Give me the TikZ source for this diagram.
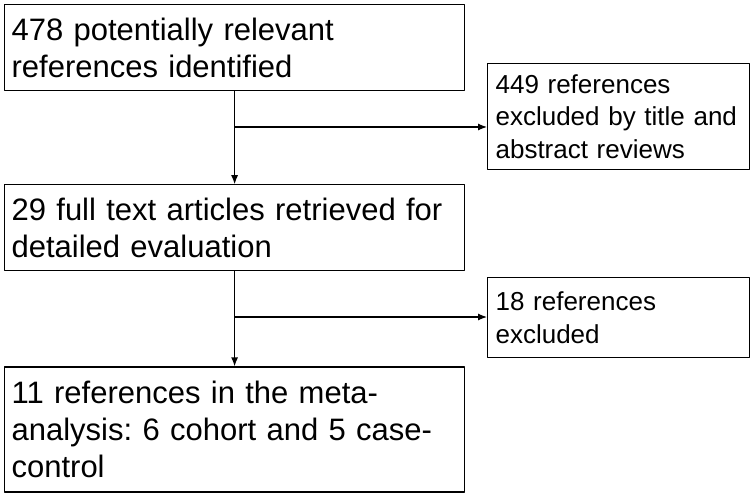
\documentclass[tikz,border=0pt]{standalone}
\usepackage{fontspec}
\setmainfont{Liberation Sans}
\usetikzlibrary{arrows.meta, positioning}
\frenchspacing

\begin{document}
\begin{tikzpicture}[
                x=1pt, y=-1pt,
                line join=bevel,
                mainboxnode/.style={shape=rectangle, draw=black, line width=1.2pt, text width=446pt, inner xsep=7pt, inner ysep=0pt, align=left, font=\fontsize{31}{37}\selectfont},
                sideboxnode/.style={shape=rectangle, draw=black, line width=1.2pt, text width=246pt, inner xsep=8pt, inner ysep=0pt, align=left, font=\fontsize{26}{32.5}\selectfont},
                flowarrow/.style={line width=1.2pt, -{Latex[length=9pt, width=7pt]}}
                ]
                \useasboundingbox (0,0) rectangle (754,494);

                %% Main column
                \node[mainboxnode, minimum height=86pt, anchor=north west] (identified) at (4,4)
                    {478 potentially relevant\\references identified};
                \node[mainboxnode, minimum height=86pt, below=93pt of identified] (retrieved)
                    {29 full text articles retrieved for\\detailed evaluation};
                \node[mainboxnode, minimum height=125pt, below=95pt of retrieved] (included)
                    {11 references in the meta-\\analysis: 6 cohort and 5 case-\\control};

                %% Exclusions
                \node[sideboxnode, minimum height=106pt, anchor=north west] (excludedA) at (487,63)
                    {449 references\\excluded by title and\\abstract reviews};
                \node[sideboxnode, minimum height=80pt, anchor=north west] (excludedB) at (487,277)
                    {18 references\\excluded};

                %% Arrows
                \draw[flowarrow] (identified.south) -- (retrieved.north);
                \draw[flowarrow] (retrieved.south) -- (included.north);

                \coordinate (splitA) at (identified.south |- 0,127);
                \coordinate (splitB) at (retrieved.south |- 0,317);
                \draw[flowarrow] (splitA) -- (splitA -| excludedA.west);
                \draw[flowarrow] (splitB) -- (splitB -| excludedB.west);
\end{tikzpicture}
\end{document}
